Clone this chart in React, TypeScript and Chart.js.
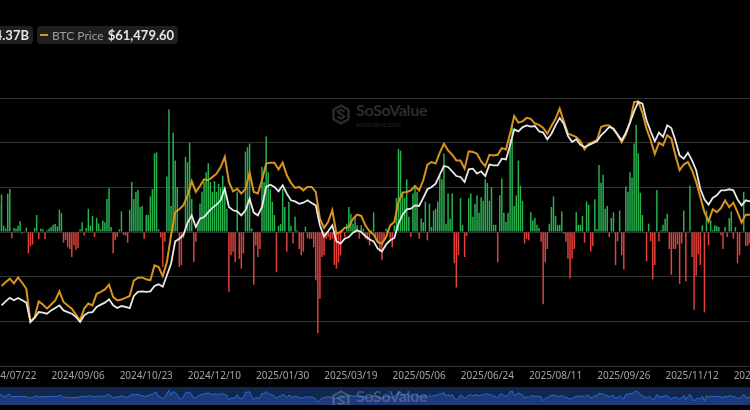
import React, { useEffect, useRef } from "react";
import { Chart, registerables } from "chart.js";

Chart.register(...registerables);

// ---------------- data ----------------
// x positions are trading-day indices, 0 = 2024/07/22
const TICK_LABELS = [
  "2024/07/22", "2024/09/06", "2024/10/23", "2024/12/10", "2025/01/30", "2025/03/19",
  "2025/05/06", "2025/06/24", "2025/08/11", "2025/09/26", "2025/11/12", "2025/12/31",
];
const TRADING_DAYS_PER_TICK = 33;
const FIRST_BAR_INDEX = -5;
const FIRST_LINE_INDEX = -4;
const LINE_SAMPLE_STEP = 2;

// Daily total net inflow, $B
const DAILY_NET_INFLOW_B = [
  0.30, 0.42, 0.07, 0.04, 0.43, 0.48, -0.07, 0.045, 0.04, 0.07,
  0.12, -0.02, 0.01, 0.05, -0.24, -0.16, -0.14, 0.045, 0.19, -0.08,
  0.04, 0.03, -0.08, 0.02, 0.04, 0.06, 0.08, 0.09, 0.065, 0.25,
  0.21, -0.12, -0.09, -0.17, -0.19, -0.28, -0.15, -0.2, -0.18, 0.03,
  0.11, -0.04, 0.045, 0.26, 0.07, 0.18, -0.055, 0.16, 0.095, 0.03,
  0.13, 0.11, 0.37, 0.49, 0.055, -0.24, -0.09, -0.055, 0.03, 0.23,
  -0.03, -0.04, -0.12, 0.25, 0.56, 0.37, 0.45, 0.47, 0.28, 0.29,
  -0.075, 0.19, 0.19,
  0.40, 0.48, 0.88, 0.89, 0.03, -0.06, -0.39, -0.11, 0.62, 1.37,
  0.29, 1.11, 0.80, 0.50, -0.39, -0.37, -0.07, 0.84, 0.78, 1.0,
  0.37, -0.34, -0.11, 0.11, 0.32, 0.45, 0.56, 0.67, 0.77, 0.56,
  0.45, 0.57, 0.45, 0.54, 0.5, 0.63, 0.49, 0.26, -0.67, -0.26,
  -0.22, -0.34, 0.45, -0.30, -0.41, -0.24, 0.9, 0.95, 0.99, 0.04,
  -0.59, -0.15, -0.28, -0.19, 0.73, 0.56, 1.07, 0.67, 0.48, 0.34,
  0.19, -0.45, 0.07, 0.09, 0.48, 0.28, -0.22, 0.34, 0.07, -0.13,
  0.17, 0.02, -0.19,
  -0.26, -0.22, 0.06, -0.07, -0.075, -0.075, -0.17, -0.54, -1.13, -0.75,
  -0.28, -0.26, -0.075, -0.056, -0.093, -0.075, -0.37, -0.41, -0.34, -0.26,
  0.03, -0.056, 0.093, 0.28, 0.205, 0.093, 0.18, 0.075, -0.075, 0.075,
  0.037, -0.075, -0.093, -0.15, 0.02, 0.22, -0.075, -0.11, -0.22, -0.317,
  -0.093, 0.037, 0.03, -0.075, -0.17, 0.075, 0.38, 0.93, 0.91, 0.45,
  0.38, 0.59, 0.17, -0.056, 0.43, 0.52, 0.45, -0.075, 0.15, 0.11,
  0.34, -0.093, 0.317, 0.056, 0.24, 0.26, 0.34, 0.63, 0.59, 0.88,
  0.093, 0.43, 0.15,
  0.43, -0.35, -0.62, -0.26, 0.38, 0.08, -0.28, -0.045, 0.38, 0.43,
  0.17, 0.317, 0.41, 0.216, 0.39, 0.35, 0.59, 0.55, 0.35, 0.50,
  0.08, 0.08, -0.34, 0.41, 0.60, 0.216, 0.112, 0.216, 1.04, 1.19,
  0.29, 0.41, 0.80, 0.52, 0.35, -0.13, -0.075, -0.093, 0.22, 0.13,
  0.156, 0.08, 0.045, -0.11, -0.81, -0.34, -0.19, 0.093, 0.28, 0.40,
  0.18, 0.075, 0.08, 0.23, -0.02, -0.11, -0.30, -0.52, -0.30, -0.19,
  0.22, 0.08, 0.08, 0.18, -0.12, 0.34, 0.306, -0.22, -0.157, 0.367,
  0.03, 0.75,
  0.55, 0.64, 0.26, 0.29, -0.056, 0.157, 0.22, -0.37, -0.105, 0.24,
  -0.26, -0.42, 0.51, 0.45, 0.67, 0.61, 0.99, 1.2, 0.88, 0.44,
  0.19, -0.004, -0.33, 0.093, -0.105, -0.53, -0.37, 0.47, -0.105, 0.02,
  0.082, 0.15, 0.205, -0.19, -0.48, -0.19, -0.19, -0.14, -0.58, -0.13,
  0.24, -0.55, 0.003, 0.52, -0.28, -0.87, -0.49, -0.25, -0.37, 0.075,
  -0.90, 0.24, -0.15, 0.13, 0.02, 0.075, 0.067, 0.056, -0.037, -0.19,
  0.056, -0.056, 0.157, 0.23, -0.075, 0.056, -0.35, -0.26, 0.004, 0.45,
  -0.157, -0.15, -0.13, -0.19,
];

// BTC price, $K (every 2nd trading day)
const BTC_PRICE_K = [
  65.4, 66.6, 67.7, 66.2, 68.1, 66.4, 64.5, 54.0, 55.5, 60.5,
  59.5, 58.2, 59.5, 60.8, 63.7, 60.3, 59.2, 58.2, 56.3, 54.5,
  58.2, 59.8, 59.2, 62.9, 63.5, 64.3, 65.8, 61.9, 60.8, 61.1,
  61.6, 62.2, 67.1, 68.0, 68.1, 67.5,
  67.2, 71.9, 71.4, 68.5, 73.0, 81.4, 88.8, 89.7, 91.0, 94.1,
  98.6, 95.2, 97.1, 99.2, 98.9, 99.9, 101.0, 103.1, 106.3, 98.4,
  95.4, 96.2, 94.7, 96.2, 101.3, 95.2, 94.7, 98.9, 104.2, 104.5,
  104.5, 102.4, 104.5, 100.5, 98.1, 96.5, 96.8,
  95.7, 96.8, 96.8, 95.2, 86.7, 83.8, 85.7, 89.4, 82.0, 82.5,
  83.8, 84.1, 86.7, 88.0, 87.6, 84.6, 82.7, 81.7, 79.3, 78.8,
  80.9, 84.6, 85.7, 92.0, 95.0, 95.2, 95.7, 97.1, 95.7, 98.9,
  103.9, 104.7, 104.2, 107.7, 110.5, 108.4,
  107.0, 105.2, 105.2, 102.6, 108.1, 107.9, 107.3, 104.9, 103.4, 107.0,
  106.8, 107.0, 109.1, 108.7, 113.7, 119.3, 117.2, 117.6, 118.7, 118.4,
  116.9, 116.5, 115.5, 113.7, 116.1, 118.4, 121.6, 117.6, 113.7, 113.2,
  112.6, 111.3, 108.7, 110.5, 111.0, 111.6,
  115.8, 116.3, 116.3, 115.1, 113.2, 111.0, 113.4, 117.4, 123.7, 123.9,
  120.3, 115.3, 111.6, 107.3, 110.8, 110.0, 113.2, 112.1, 106.8, 102.1,
  103.9, 104.7, 102.1, 98.4, 93.6, 88.8, 85.9, 89.7, 88.8, 90.1,
  92.5, 90.4, 91.8, 88.8, 85.5, 88.0, 88.0, 87.8,
];

// Total net assets, $B (every 2nd trading day)
const TOTAL_NET_ASSETS_B = [
  57.5, 59.7, 61.6, 60.3, 61.6, 60.3, 59.0, 48.3, 50.5, 53.8,
  53.5, 52.9, 54.7, 56.0, 57.5, 54.7, 53.8, 52.9, 51.1, 48.3,
  52.0, 53.5, 53.8, 56.6, 57.9, 59.0, 60.8, 57.5, 56.0, 57.1,
  56.6, 56.0, 62.7, 64.9, 65.2, 64.9,
  65.2, 68.2, 69.1, 67.8, 74.1, 80.5, 92.8, 94.3, 96.5, 103.2,
  107.2, 100.8, 105.4, 106.3, 109.0, 111.3, 113.1, 115.5, 121.9, 111.8,
  110.0, 109.4, 107.2, 110.0, 116.4, 108.7, 107.2, 111.8, 122.9, 124.1,
  122.9, 120.5, 123.8, 119.2, 115.5, 114.9, 113.6,
  114.2, 115.5, 114.0, 112.7, 101.7, 95.6, 98.4, 101.7, 92.8, 91.6,
  94.3, 95.2, 97.6, 98.9, 98.0, 95.8, 94.0, 92.8, 88.8, 87.3,
  91.0, 93.4, 94.7, 102.6, 107.6, 110.5, 110.9, 112.7, 112.4, 116.8,
  121.6, 122.9, 124.7, 129.7, 134.4, 133.9,
  131.5, 128.9, 128.4, 125.6, 132.6, 133.0, 130.2, 131.5, 128.9, 135.2,
  134.8, 134.8, 138.5, 138.1, 145.9, 154.7, 153.6, 155.8, 156.9, 156.2,
  156.5, 153.6, 152.9, 149.2, 152.3, 156.9, 161.0, 157.8, 151.0, 147.7,
  149.2, 146.2, 144.9, 145.9, 147.0, 148.1,
  151.4, 153.6, 156.0, 155.1, 151.8, 148.6, 152.9, 158.4, 164.6, 169.8,
  168.9, 159.7, 153.6, 148.1, 152.9, 150.5, 156.9, 155.4, 148.4, 140.3,
  138.5, 141.8, 137.6, 132.1, 121.9, 116.0, 113.1, 116.8, 118.3, 121.0,
  121.0, 121.6, 121.0, 116.0, 112.7, 115.5, 114.9, 114.6,
];

const LEGEND_ASSETS_LABEL = "Total Net Assets";
const LEGEND_ASSETS_VALUE = "$84.37B";
const LEGEND_PRICE_LABEL = "BTC Price";
const LEGEND_PRICE_VALUE = "$61,479.60";

// ---------------- styling / layout ----------------
const GREEN = "#27b24f";
const RED = "#e4413b";
const ORANGE = "#d8941d";
const WHITE = "#e9e9e9";
const GRID = "#333333";

const CANVAS_LEFT = -60;
const CANVAS_W = 870;
const MAIN_H = 395;
const X_AXIS_HEIGHT = 20;
const X_MIN = -33.76;
const X_MAX = 387.07;

function Watermark(props: { left: number; top: number; color: string; sub: string }) {
  const { left, top, color, sub } = props;
  return (
    <div
      style={{
        position: "absolute",
        left,
        top,
        display: "flex",
        alignItems: "center",
        gap: 6,
        pointerEvents: "none",
      }}
    >
      <svg width="18" height="21" viewBox="0 0 18 21">
        <path
          d="M9 1.5 L16.5 5.8 V15.2 L9 19.5 L1.5 15.2 V5.8 Z"
          fill="none"
          stroke={color}
          strokeWidth="2.4"
          strokeLinejoin="round"
        />
        <path d="M12.5 7.6 L9 5.6 L5.5 7.6 L12.5 12.6 L9 14.6 L5.5 12.6" fill="none" stroke={color} strokeWidth="2" />
      </svg>
      <div style={{ display: "flex", flexDirection: "column", lineHeight: 1 }}>
        <span style={{ font: "700 16px Lato", color, letterSpacing: -0.3 }}>SoSoValue</span>
        <span style={{ font: "400 7px Lato", color: sub, marginTop: 1 }}>sosovalue.com</span>
      </div>
    </div>
  );
}

const pillStyle: React.CSSProperties = {
  position: "absolute",
  top: 26,
  height: 18,
  background: "#1f1f1f",
  borderRadius: 4,
  display: "flex",
  alignItems: "center",
  padding: "0 4px 0 3px",
  whiteSpace: "nowrap",
  font: "400 12px Lato",
  color: "#9c9c9c",
};

export default function App() {
  const mainRef = useRef<HTMLCanvasElement>(null);
  const navRef = useRef<HTMLCanvasElement>(null);

  useEffect(() => {
    const bars = DAILY_NET_INFLOW_B.map((v, k) => ({ x: FIRST_BAR_INDEX + k, y: v }));
    const price = BTC_PRICE_K.map((v, k) => ({ x: FIRST_LINE_INDEX + k * LINE_SAMPLE_STEP, y: v }));
    const assets = TOTAL_NET_ASSETS_B.map((v, k) => ({ x: FIRST_LINE_INDEX + k * LINE_SAMPLE_STEP, y: v }));

    const main = new Chart(mainRef.current as HTMLCanvasElement, {
      type: "bar",
      data: {
        datasets: [
          {
            type: "line",
            label: "Total Net Assets",
            data: assets,
            yAxisID: "yAssets",
            borderColor: WHITE,
            borderWidth: 1.8,
            pointRadius: 0,
            tension: 0,
            order: 0,
          } as any,
          {
            type: "line",
            label: "BTC Price",
            data: price,
            yAxisID: "yPrice",
            borderColor: ORANGE,
            borderWidth: 2,
            pointRadius: 0,
            tension: 0,
            order: 1,
          } as any,
          {
            type: "bar",
            label: "Daily Total Net Inflow",
            data: bars,
            yAxisID: "y",
            backgroundColor: bars.map((b) => (b.y >= 0 ? GREEN : RED)),
            barPercentage: 0.72,
            categoryPercentage: 1,
            order: 2,
          } as any,
        ],
      },
      options: {
        animation: false,
        responsive: false,
        devicePixelRatio: 1,
        events: [],
        layout: { padding: { top: 98, bottom: 9, left: 0, right: 0 } },
        plugins: { legend: { display: false }, tooltip: { enabled: false } },
        scales: {
          x: {
            type: "linear",
            min: X_MIN,
            max: X_MAX,
            offset: false,
            afterBuildTicks: (scale: any) => {
              scale.ticks = TICK_LABELS.map((_, k) => ({ value: k * TRADING_DAYS_PER_TICK }));
            },
            afterFit: (scale: any) => {
              scale.height = X_AXIS_HEIGHT;
            },
            ticks: {
              autoSkip: false,
              maxRotation: 0,
              minRotation: 0,
              padding: 4,
              color: "#a3a3a3",
              font: { family: "'Noto Sans', sans-serif", size: 10 },
              callback: (value: any) => TICK_LABELS[Math.round(Number(value) / TRADING_DAYS_PER_TICK)] ?? "",
            },
            grid: { display: false, drawTicks: false },
            border: { display: false },
          },
          y: {
            position: "left",
            min: -1.5,
            max: 1.5,
            ticks: { display: false, stepSize: 0.5 },
            grid: { color: GRID, lineWidth: 1, drawTicks: false },
            border: { display: false },
          },
          yPrice: { display: false, min: 40, max: 125 },
          yAssets: { display: false, min: 24, max: 172 },
        },
      } as any,
    });

    const nav = new Chart(navRef.current as HTMLCanvasElement, {
      type: "line",
      data: {
        datasets: [
          {
            data: bars,
            borderColor: "#3169d2",
            borderWidth: 1,
            backgroundColor: "#1c3b78",
            fill: "start",
            pointRadius: 0,
            tension: 0,
          },
        ],
      },
      options: {
        animation: false,
        responsive: false,
        devicePixelRatio: 1,
        events: [],
        layout: { padding: 0 },
        plugins: { legend: { display: false }, tooltip: { enabled: false } },
        scales: {
          x: { type: "linear", display: false, min: X_MIN, max: X_MAX },
          y: { display: false, min: -1.7, max: 2.0 },
        },
      } as any,
    });

    return () => {
      main.destroy();
      nav.destroy();
    };
  }, []);

  return (
    <div
      style={{
        position: "absolute",
        left: 0,
        top: 0,
        width: 750,
        height: 410,
        overflow: "hidden",
        background: "#000",
      }}
    >
      <Watermark left={332} top={100} color="#2c2c2c" sub="#262626" />
      <canvas
        ref={mainRef}
        width={CANVAS_W}
        height={MAIN_H}
        style={{ position: "absolute", left: CANVAS_LEFT, top: 0, width: CANVAS_W, height: MAIN_H }}
      />
      <div
        style={{
          position: "absolute",
          left: 0,
          top: 387,
          width: 750,
          height: 18,
          overflow: "hidden",
          background: "#12274e",
        }}
      >
        <canvas
          ref={navRef}
          width={CANVAS_W}
          height={18}
          style={{ position: "absolute", left: CANVAS_LEFT, top: 0, width: CANVAS_W, height: 18 }}
        />
        <Watermark left={332} top={-1} color="rgba(190,198,215,0.28)" sub="rgba(190,198,215,0.22)" />
      </div>
      <div style={{ ...pillStyle, right: 717 }}>
        <span style={{ width: 8, height: 2, background: WHITE, marginRight: 4, display: "inline-block" }} />
        {LEGEND_ASSETS_LABEL}
        <span style={{ font: "700 13px Lato", color: "#e6e6e6", marginLeft: 4 }}>{LEGEND_ASSETS_VALUE}</span>
      </div>
      <div style={{ ...pillStyle, left: 37 }}>
        <span style={{ width: 8, height: 2, background: ORANGE, marginRight: 4, display: "inline-block" }} />
        {LEGEND_PRICE_LABEL}
        <span style={{ font: "700 13px Lato", color: "#e6e6e6", marginLeft: 4 }}>{LEGEND_PRICE_VALUE}</span>
      </div>
    </div>
  );
}
